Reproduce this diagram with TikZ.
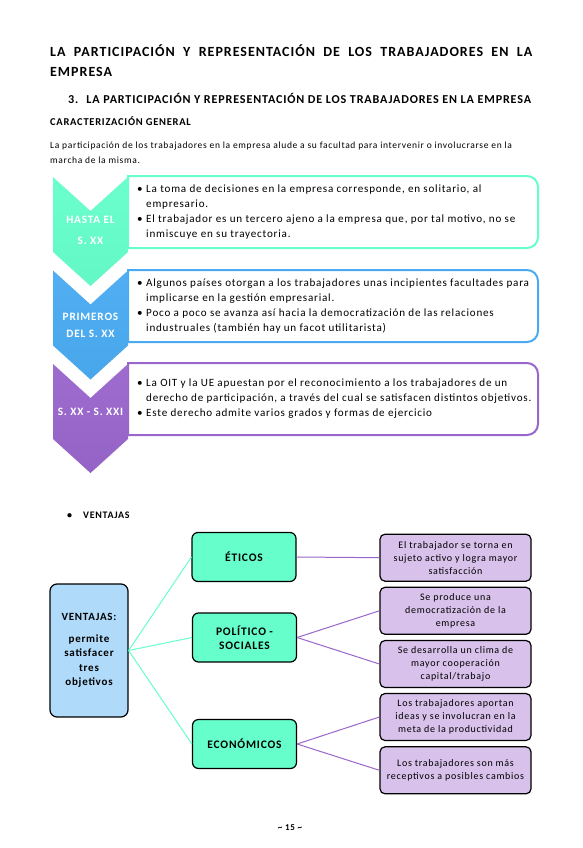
\documentclass[tikz,border=0pt]{standalone}
\usepackage{fontspec}
\setmainfont{Carlito}[LetterSpace=7]
\usetikzlibrary{positioning}

\definecolor{tealc}{HTML}{66FFCC}
\definecolor{bluec}{HTML}{4AABF2}
\definecolor{purplec}{HTML}{9966CC}
\definecolor{lightblue}{HTML}{AFDAF9}
\definecolor{lilac}{HTML}{D8C1EA}

\begin{document}
\begin{tikzpicture}[x=1pt,y=-1pt,
	every node/.style={inner sep=0pt},
	chevtext/.style={text=white,font=\bfseries\fontsize{11.3}{17}\selectfont,align=center},
	bullettext/.style={anchor=west,font=\fontsize{11.1}{14.5}\selectfont},
	ventbox/.style={draw=black,line width=1.2pt,rounded corners=7pt,fill=lightblue,minimum width=78pt,minimum height=133pt,align=center,font=\bfseries\fontsize{11}{14.5}\selectfont},
	goalbox/.style={draw=black,line width=1.2pt,rounded corners=6pt,fill=tealc,minimum width=104pt,minimum height=49pt,align=center,font=\bfseries\fontsize{11.5}{14}\selectfont},
	effectbox/.style={draw=black,line width=1.2pt,rounded corners=5pt,fill=lilac,minimum width=151pt,minimum height=47pt,align=center,font=\fontsize{10}{13}\selectfont},
	tealline/.style={draw=tealc,line width=1pt},
	lilacline/.style={draw=purplec,line width=1pt}]
	\useasboundingbox[fill=white] (0,0) rectangle (582,848);

	% headings
	\node[anchor=base west,font=\bfseries\fontsize{14}{20.2}\selectfont] (title) at (50,56.3)
		{\parbox[t]{482pt}{LA PARTICIPACIÓN Y REPRESENTACIÓN DE LOS TRABAJADORES EN LA\linebreak EMPRESA}};
	\node[anchor=base west,font=\bfseries\fontsize{12.1}{14}\selectfont] (section) at (68,103.9)
		{3.\hspace{8pt}LA PARTICIPACIÓN Y REPRESENTACIÓN DE LOS TRABAJADORES EN LA EMPRESA};
	\node[anchor=base west,font=\bfseries\fontsize{10.5}{12}\selectfont] (subsection) at (50,125.3)
		{CARACTERIZACIÓN GENERAL};
	\node[anchor=base west,font=\fontsize{9.5}{14}\selectfont] (intro) at (50,149)
		{\parbox[t]{500pt}{\raggedright La participación de los trabajadores en la empresa alude a su facultad para intervenir o involucrarse en la\\ marcha de la misma.}};

	% boxes behind the chevrons
	\foreach \t/\col in {176/tealc,270/bluec,363/purplec}
	{
		\draw[draw=\col,line width=2pt,fill=white] (128,\t) [rounded corners=11pt] -- (538,\t) -- (538,\t+72) [sharp corners] -- (128,\t+72) -- cycle;
	}
	% chevrons
	\foreach \t/\col in {177/tealc,270.5/bluec,364/purplec}
	{
		\shade[top color=\col!96!white,bottom color=\col!97!black] (53,\t) -- (90.5,\t+34) -- (128,\t) -- (128,\t+75) -- (90.5,\t+109) -- (53,\t+75) -- cycle;
	}
	\node[chevtext,font=\bfseries\fontsize{11.3}{21}\selectfont] (era1) at (90.5,230.5) {HASTA EL\\S. XX};
	\node[chevtext] (era2) at (90.5,325.5) {PRIMEROS\\DEL S. XX};
	\node[chevtext] (era3) at (90.5,412) {S. XX - S. XXI};

	\node[bullettext] (items1) at (137,212) {\begin{tabular}{@{}l@{\hspace{3.5pt}}l@{}}
		\textbullet & La toma de decisiones en la empresa corresponde, en solitario, al\\
		& empresario.\\[1pt]
		\textbullet & El trabajador es un tercero ajeno a la empresa que, por tal motivo, no se\\
		& inmiscuye en su trayectoria.\end{tabular}};
	\node[bullettext] (items2) at (137,306) {\begin{tabular}{@{}l@{\hspace{3.5pt}}l@{}}
		\textbullet & Algunos países otorgan a los trabajadores unas incipientes facultades para\\
		& implicarse en la gestión empresarial.\\[1pt]
		\textbullet & Poco a poco se avanza así hacia la democratización de las relaciones\\
		& industruales (también hay un facot utilitarista)\end{tabular}};
	\node[bullettext] (items3) at (137,399) {\begin{tabular}{@{}l@{\hspace{3.5pt}}l@{}}
		\textbullet & La OIT y la UE apuestan por el reconocimiento a los trabajadores de un\\
		& derecho de participación, a través del cual se satisfacen distintos objetivos.\\[1pt]
		\textbullet & Este derecho admite varios grados y formas de ejercicio\end{tabular}};

	% ventajas
	\node[anchor=base west,font=\bfseries\fontsize{10}{12}\selectfont] (ventlabel) at (67,518.5)
		{\textbullet\hspace{11pt}VENTAJAS};

	\node[ventbox] (vent) at (89,650.5) {VENTAJAS:\\[7pt]permite\\satisfacer\\tres\\objetivos};
	\node[goalbox] (etic) at (244,557) {ÉTICOS};
	\node[goalbox] (poli) at (244.5,637.5) {POLÍTICO -\\SOCIALES};
	\node[goalbox] (econ) at (244.5,744) {ECONÓMICOS};

	\node[effectbox] (eff1) at (455.5,557.7) {El trabajador se torna en\\sujeto activo y logra mayor\\satisfacción};
	\node[effectbox] (eff2) at (455.5,610.8) {Se produce una\\democratización de la\\empresa};
	\node[effectbox] (eff3) at (455.5,664) {Se desarrolla un clima de\\mayor cooperación\\capital/trabajo};
	\node[effectbox] (eff4) at (455.5,717) {Los trabajadores aportan\\ideas y se involucran en la\\meta de la productividad};
	\node[effectbox] (eff5) at (455.5,770.3) {Los trabajadores son más\\receptivos a posibles cambios};

	\draw[tealline] (vent.east) -- (etic.west);
	\draw[tealline] (vent.east) -- (poli.west);
	\draw[tealline] (vent.east) -- (econ.west);
	\draw[lilacline] (etic.east) -- (eff1.west);
	\draw[lilacline] (poli.east) -- (eff2.west);
	\draw[lilacline] (poli.east) -- (eff3.west);
	\draw[lilacline] (econ.east) -- (eff4.west);
	\draw[lilacline] (econ.east) -- (eff5.west);

	\node[anchor=base,font=\bfseries\fontsize{9}{10}\selectfont] (pagenum) at (290,830) {\textasciitilde\ 15 \textasciitilde};
\end{tikzpicture}
\end{document}
